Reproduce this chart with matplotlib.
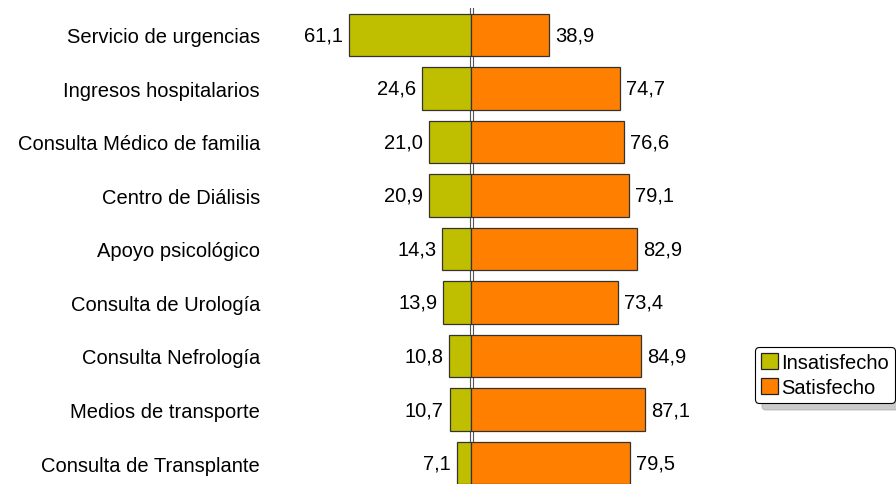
import matplotlib.pyplot as plt

categorias = [
    "Servicio de urgencias",
    "Ingresos hospitalarios",
    "Consulta Médico de familia",
    "Centro de Diálisis",
    "Apoyo psicológico",
    "Consulta de Urología",
    "Consulta Nefrología",
    "Medios de transporte",
    "Consulta de Transplante",
]
insatisfecho = [61.1, 24.6, 21.0, 20.9, 14.3, 13.9, 10.8, 10.7, 7.1]
satisfecho = [38.9, 74.7, 76.6, 79.1, 82.9, 73.4, 84.9, 87.1, 79.5]

plt.rcParams['font.family'] = ['Liberation Sans', 'DejaVu Sans']
FS = 14.5

fig = plt.figure(figsize=(8.96, 4.85), dpi=100)
ax = fig.add_axes([271 / 896, -0.0119, 400 / 896, 0.993])

y = list(range(len(categorias)))
verde = "#BFBF00"
naranja = "#FF8000"

ax.barh(y, [-v for v in insatisfecho], height=0.79, color=verde,
        edgecolor="#333333", linewidth=0.9, label="Insatisfecho", zorder=3)
ax.barh(y, satisfecho, height=0.79, color=naranja,
        edgecolor="#333333", linewidth=0.9, label="Satisfecho", zorder=3)

# eje central doble
ax.axvline(-0.75, color="#555555", lw=0.8, zorder=2)
ax.axvline(0.75, color="#555555", lw=0.8, zorder=2)

fmt = lambda v: f"{v:.1f}".replace(".", ",")
for yi, a, b in zip(y, insatisfecho, satisfecho):
    ax.text(-a - 3, yi, fmt(a), ha="right", va="center", fontsize=FS)
    ax.text(b + 3, yi, fmt(b), ha="left", va="center", fontsize=FS)

ax.set_xlim(-100, 100)
ax.set_ylim(len(categorias) - 0.5, -0.5)
ax.set_yticks(y)
ax.set_yticklabels(categorias, fontsize=FS)
ax.tick_params(axis="y", length=0, pad=8)
ax.set_xticks([])
for s in ax.spines.values():
    s.set_visible(False)

leg = fig.legend(loc="center left", bbox_to_anchor=(755 / 896, 1 - 376 / 485),
                 fontsize=FS, frameon=True, fancybox=True,
                 shadow={"color": "#999999", "ox": 5, "oy": -5},
                 handlelength=0.85, handleheight=0.85, handletextpad=0.15,
                 labelspacing=0.3, borderpad=0.3, borderaxespad=0)
leg.get_frame().set_edgecolor("#000000")
leg.get_frame().set_linewidth(0.8)
for h in leg.legend_handles:
    h.set_edgecolor("#222222")

fig.savefig("out.png", dpi=100)
